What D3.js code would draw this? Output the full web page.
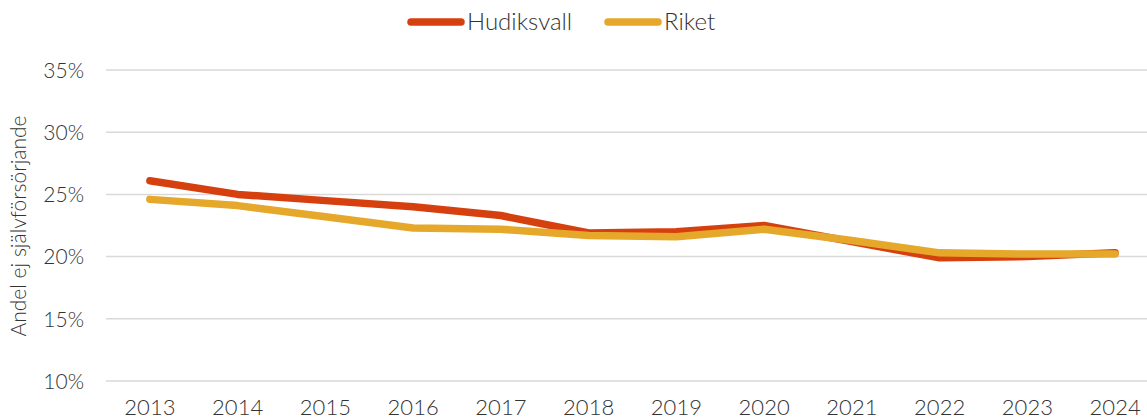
<!DOCTYPE html>
<html>
<head>
<meta charset="utf-8">
<script src="https://cdn.jsdelivr.net/npm/d3@7"></script>
<style>
  html, body { margin: 0; padding: 0; background: #fff; }
  svg text { font-family: "Lato", "Open Sans", sans-serif; font-weight: 300; fill: #333; }
</style>
</head>
<body>
<svg id="chart" width="1147" height="420"></svg>
<script>
// Andel ej självförsörjande, Hudiksvall jämfört med riket
const years = ["2013","2014","2015","2016","2017","2018","2019","2020","2021","2022","2023","2024"];
const hudiksvall = [26.1, 25.0, 24.5, 24.0, 23.3, 21.9, 22.0, 22.5, 21.2, 19.9, 20.0, 20.3];
const riket      = [24.6, 24.1, 23.2, 22.3, 22.2, 21.7, 21.6, 22.2, 21.3, 20.3, 20.2, 20.2];
const yTicks = [10, 15, 20, 25, 30, 35];
const seriesNames = ["Hudiksvall", "Riket"];
const seriesColors = ["#D6400F", "#E5A82A"];

const svg = d3.select("#chart");
const margin = { left: 106, right: -12, top: 70, bottom: 39 };
const W = 1147, H = 420;

const x = d3.scaleBand()
  .domain(years)
  .range([margin.left, W - margin.right])
  .paddingInner(0).paddingOuter(0);

const y = d3.scaleLinear()
  .domain([10, 35])
  .range([H - margin.bottom, margin.top]);

// gridlines
svg.append("g")
  .selectAll("line")
  .data(yTicks)
  .join("line")
  .attr("x1", margin.left).attr("x2", W)
  .attr("y1", d => y(d)).attr("y2", d => y(d))
  .attr("stroke", "#d9d9d9").attr("stroke-width", 1.5);

// y axis labels
const yAxis = d3.axisLeft(y).tickValues(yTicks).tickFormat(d => d + "%").tickSize(0).tickPadding(0);
const gy = svg.append("g").attr("transform", `translate(${margin.left - 22},0)`).call(yAxis);
gy.select(".domain").remove();
gy.selectAll("text").attr("font-size", 21).attr("font-family", null).attr("dy", "0.35em");

// x axis labels
const xAxis = d3.axisBottom(x).tickSize(0).tickPadding(0);
const gx = svg.append("g").attr("transform", `translate(0,${H - margin.bottom + 16})`).call(xAxis);
gx.select(".domain").remove();
gx.selectAll("text").attr("font-size", 22).attr("font-family", null).attr("dy", "0.8em");

// y axis title
svg.append("text")
  .attr("transform", `translate(26,226) rotate(-90)`)
  .attr("text-anchor", "middle")
  .attr("font-size", 21)
  .text("Andel ej självförsörjande");

// lines
const line = d3.line()
  .x((d, i) => x(years[i]) + x.bandwidth() / 2)
  .y(d => y(d));

[hudiksvall, riket].forEach((vals, k) => {
  svg.append("path")
    .datum(vals)
    .attr("d", line)
    .attr("fill", "none")
    .attr("stroke", seriesColors[k])
    .attr("stroke-width", 7.5)
    .attr("stroke-linecap", "round")
    .attr("stroke-linejoin", "round");
});

// legend
const legendX = [411, 608];
seriesNames.forEach((name, k) => {
  const g = svg.append("g").attr("transform", `translate(${legendX[k]},22)`);
  g.append("line")
    .attr("x1", 0).attr("x2", 50).attr("y1", 0).attr("y2", 0)
    .attr("stroke", seriesColors[k]).attr("stroke-width", 7.5)
    .attr("stroke-linecap", "round");
  g.append("text")
    .attr("x", 56).attr("y", 0).attr("dy", "0.35em")
    .attr("font-size", 24)
    .text(name);
});
</script>
</body>
</html>
